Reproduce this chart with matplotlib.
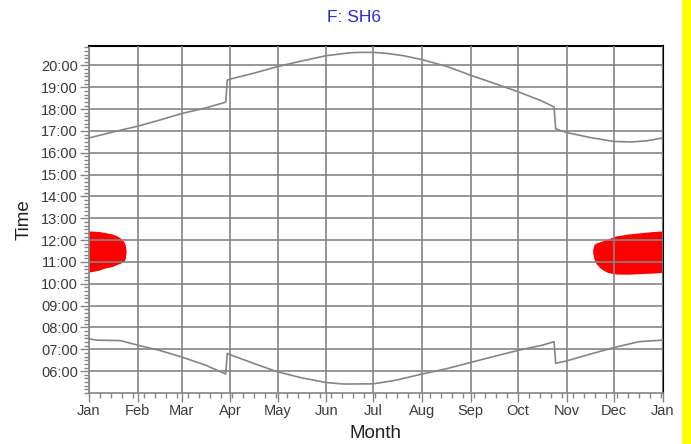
import numpy as np
import matplotlib
matplotlib.use("Agg")
import matplotlib.pyplot as plt
from matplotlib.patches import Rectangle
from matplotlib.ticker import FixedLocator, MultipleLocator

plt.rcParams['font.family'] = ['Liberation Sans', 'DejaVu Sans']

# day of year (0 = 1 Jan) and clock time in decimal hours
sunset_day = [0, 15, 31, 45, 59, 74, 87, 88, 90, 105, 120, 135, 151, 166, 172, 181,
              190, 200, 212, 228, 243, 258, 273, 288, 296, 297, 304, 319, 334, 345, 355, 365]
sunset_hr = [16.68, 16.95, 17.22, 17.50, 17.80, 18.05, 18.32, 19.33, 19.38, 19.65, 19.95,
             20.20, 20.45, 20.58, 20.60, 20.60, 20.55, 20.45, 20.27, 19.95, 19.55, 19.18,
             18.80, 18.38, 18.10, 17.10, 16.93, 16.70, 16.52, 16.50, 16.55, 16.68]

sunrise_day = [0, 5, 20, 31, 45, 59, 74, 87, 88, 90, 105, 120, 135, 151, 162, 181,
               195, 212, 228, 243, 258, 273, 288, 296, 297, 304, 319, 334, 350, 365]
sunrise_hr = [7.48, 7.42, 7.40, 7.19, 6.95, 6.65, 6.28, 5.87, 6.82, 6.75, 6.35, 5.97,
              5.70, 5.48, 5.41, 5.42, 5.58, 5.87, 6.12, 6.40, 6.68, 6.95, 7.18, 7.35,
              6.36, 6.47, 6.78, 7.08, 7.35, 7.42]

# shaded periods (winter, around midday)
shade1_day = [0, 6, 10, 15, 18, 21, 22.5, 23.2, 23.6]
shade1_top = [12.42, 12.40, 12.35, 12.28, 12.19, 12.05, 11.89, 11.75, 11.55]
shade1_bot = [10.54, 10.62, 10.72, 10.80, 10.89, 10.98, 11.05, 11.20, 11.45]

shade2_day = [320.6, 321.5, 323, 326, 330, 335, 343, 351, 358, 365]
shade2_top = [11.60, 11.80, 11.88, 11.95, 12.05, 12.19, 12.28, 12.34, 12.39, 12.42]
shade2_bot = [11.40, 11.10, 10.90, 10.68, 10.52, 10.45, 10.44, 10.47, 10.49, 10.52]

month_start = [0, 31, 59, 90, 120, 151, 181, 212, 243, 273, 304, 334, 365]
month_names = ['Jan', 'Feb', 'Mar', 'Apr', 'May', 'Jun', 'Jul', 'Aug', 'Sep', 'Oct',
               'Nov', 'Dec', 'Jan']
hours = list(range(6, 21))
hour_labels = ['%02d:00' % h for h in hours]

grey = '#858585'
txt = '#3a3a3a'

fig = plt.figure(figsize=(6.91, 4.44), dpi=100)
ax = fig.add_axes([89 / 691, 51 / 444, 573.5 / 691, 346.5 / 444])

ax.fill_between(shade1_day, shade1_bot, shade1_top, color='#ff0000', lw=0, zorder=1)
ax.fill_between(shade2_day, shade2_bot, shade2_top, color='#ff0000', lw=0, zorder=1)

ax.set_xlim(0, 365)
ax.set_ylim(5.0, 20.87)

ax.xaxis.set_major_locator(FixedLocator(month_start))
ax.set_xticklabels(month_names)
ax.xaxis.set_minor_locator(MultipleLocator(7))
ax.yaxis.set_major_locator(FixedLocator(hours))
ax.set_yticklabels(hour_labels)
ax.yaxis.set_minor_locator(MultipleLocator(1 / 6))

ax.grid(True, which='major', color=grey, lw=1.2, zorder=2)
ax.set_axisbelow(False)

ax.plot(sunset_day, sunset_hr, color=grey, lw=1.2, zorder=3)
ax.plot(sunrise_day, sunrise_hr, color=grey, lw=1.2, zorder=3)

ax.tick_params(which='major', direction='out', length=6.5, width=1, color=grey,
               labelsize=10.5, labelcolor=txt, pad=1.5)
ax.tick_params(which='minor', direction='out', length=3.5, width=1, color=grey)

for s in ('top', 'right'):
    ax.spines[s].set_color('black')
    ax.spines[s].set_linewidth(1.5)
for s in ('left', 'bottom'):
    ax.spines[s].set_color(grey)
    ax.spines[s].set_linewidth(1.2)

ax.set_xlabel('Month', fontsize=13.5, color='#222222', labelpad=5)
ax.set_ylabel('Time', fontsize=13.5, color='#222222', labelpad=6)

fig.text(354 / 691, 1 - 18 / 444, 'F: SH6', color='#2a2ad8', fontsize=12.5,
         ha='center', va='center')

# yellow strip on the right edge
fig.patches.append(Rectangle((682 / 691, 0), 9 / 691, 1, transform=fig.transFigure,
                             facecolor='#ffff00', edgecolor='none'))

fig.savefig('out.png', dpi=100)
